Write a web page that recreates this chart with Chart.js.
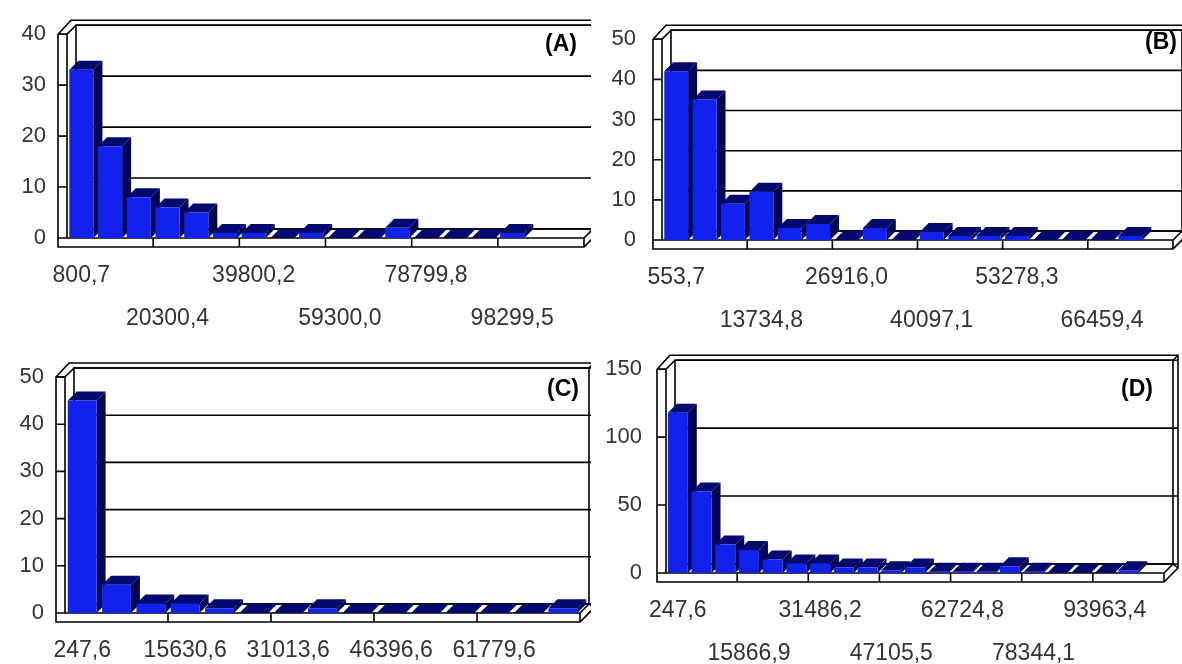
<!DOCTYPE html>
<html>
<head>
<meta charset="utf-8">
<script src="https://cdn.jsdelivr.net/npm/chart.js@4.4.1/dist/chart.umd.min.js"></script>
<style>
  html, body { margin: 0; padding: 0; background: #fff; }
  #wrap { position: relative; width: 1182px; height: 664px; overflow: hidden; background: #fff; }
  .panel { position: absolute; width: 591px; height: 332px; }
</style>
</head>
<body>
<div id="wrap">
  <div class="panel" style="left:0;top:0"><canvas id="histA" width="591" height="332"></canvas></div>
  <div class="panel" style="left:591px;top:0"><canvas id="histB" width="591" height="332"></canvas></div>
  <div class="panel" style="left:0;top:332px"><canvas id="histC" width="591" height="332"></canvas></div>
  <div class="panel" style="left:591px;top:332px"><canvas id="histD" width="591" height="332"></canvas></div>
</div>
<script>
// ── DATA ──────────────────────────────────────────────────────────────────────
// bin labels (only every third bin is labelled in the source), counts per bin
const labelsA = ['800,7','','','20300,4','','','39800,2','','','59300,0','','','78799,8','','','98299,5','',''];
const countsA = [33, 18, 8, 6, 5, 1, 1, 0, 1, 0, 0, 2, 0, 0, 0, 1, null, null];

const labelsB = ['553,7','','','13734,8','','','26916,0','','','40097,1','','','53278,3','','','66459,4','',''];
const countsB = [42, 35, 9, 12, 3, 4, 0, 3, 0, 2, 1, 1, 1, 0, 0, 0, 1, null];

const labelsC = ['247,6','','','15630,6','','','31013,6','','','46396,6','','','61779,6','',''];
const countsC = [45, 6, 2, 2, 1, 0, 0, 1, 0, 0, 0, 0, 0, 0, 1];

const labelsD = ['247,6','','','15866,9','','','31486,2','','','47105,5','','','62724,8','','','78344,1','','','93963,4','',''];
const countsD = [118, 60, 21, 17, 10, 7, 7, 4, 4, 2, 4, 1, 1, 1, 5, 1, 0, 0, 0, 2, null];

// [min, max, step]
const yTicksA = [0, 40, 10];
const yTicksB = [0, 50, 10];
const yTicksC = [0, 50, 10];
const yTicksD = [0, 150, 50];

// ── STYLE ─────────────────────────────────────────────────────────────────────
const DEPTH = 9;
const FRONT = '#1222ee';
const TOP = '#03096e';
const SIDE = '#000654';
const FONT = "'Liberation Sans', Arial, sans-serif";

// 3D walls, floor, bar tops/sides and the (A)..(D) tag
const box3d = {
  id: 'box3d',
  beforeDatasetsDraw(chart, args, o) {
    const { ctx, chartArea: ca, scales: { y } } = chart;
    const L = ca.left, R = ca.right, T = ca.top, B = ca.bottom, d = DEPTH;
    const nSlots = chart.data.labels.length;
    const slot = (R - L) / nSlots;
    ctx.save();
    ctx.strokeStyle = '#000';
    ctx.lineWidth = 1.6;

    // outer silhouette (wall thickness)
    ctx.beginPath();
    ctx.moveTo(L - 9, B + 9);
    ctx.lineTo(L - 9, T);
    ctx.lineTo(L - 9 + d + 4, T - d - 5);
    ctx.lineTo(R + d + 5, T - d - 5);
    ctx.lineTo(R + d + 5, B - d + 4);
    ctx.lineTo(R, B + 9);
    ctx.closePath();
    ctx.stroke();

    // back wall
    ctx.strokeRect(L + d, T - d, R - L, B - T);
    // left wall front edge + top diagonal
    ctx.beginPath();
    ctx.moveTo(L, B); ctx.lineTo(L, T); ctx.lineTo(L + d, T - d);
    ctx.moveTo(L - 9, T); ctx.lineTo(L, T);
    ctx.stroke();
    // floor
    ctx.beginPath();
    ctx.moveTo(L, B); ctx.lineTo(R, B); ctx.lineTo(R + d, B - d);
    ctx.moveTo(R, B); ctx.lineTo(R, B + 9);
    ctx.moveTo(R + d, B - d); ctx.lineTo(R + d + 5, B - d + 4);
    ctx.stroke();
    // corner at top right
    ctx.beginPath();
    ctx.moveTo(R + d, T - d); ctx.lineTo(R + d + 5, T - d - 5);
    ctx.stroke();

    // grid lines on back wall, ticks on side walls
    y.ticks.forEach(t => {
      const py = y.getPixelForValue(t.value);
      ctx.beginPath();
      ctx.moveTo(L + d, py - d); ctx.lineTo(R + d, py - d);
      ctx.moveTo(R + d, py - d); ctx.lineTo(R + d + 5, py - d);
      ctx.moveTo(L - 9, py); ctx.lineTo(L, py);
      ctx.stroke();
    });
    // ticks on floor front every 3 bins
    ctx.beginPath();
    for (let k = 3; k < nSlots; k += 3) {
      const px = L + k * slot;
      ctx.moveTo(px, B); ctx.lineTo(px, B + 9);
    }
    ctx.stroke();

    // bar tops and sides, left to right (fronts drawn by Chart.js afterwards)
    const meta = chart.getDatasetMeta(0);
    const data = chart.data.datasets[0].data;
    meta.data.forEach((bar, i) => {
      if (data[i] === null) return;
      const { x: cx, y: top, width: w } = bar.getProps(['x', 'y', 'width'], true);
      const left = cx - w / 2, right = cx + w / 2;
      ctx.fillStyle = TOP;
      ctx.beginPath();
      ctx.moveTo(left, top); ctx.lineTo(left + d, top - d);
      ctx.lineTo(right + d, top - d); ctx.lineTo(right, top);
      ctx.closePath(); ctx.fill();
      ctx.fillStyle = SIDE;
      ctx.beginPath();
      ctx.moveTo(right, top); ctx.lineTo(right + d, top - d);
      ctx.lineTo(right + d, B - d); ctx.lineTo(right, B);
      ctx.closePath(); ctx.fill();
    });
    ctx.restore();
  },
  afterDraw(chart, args, o) {
    const { ctx } = chart;
    ctx.save();
    ctx.font = 'bold 23px ' + FONT;
    ctx.fillStyle = '#000';
    ctx.textAlign = 'center';
    ctx.textBaseline = 'middle';
    ctx.fillText(o.tag, o.tagX, o.tagY);
    ctx.restore();
  }
};

function makeHist(id, labels, counts, yTicks, g) {
  const [yMin, yMax, yStep] = yTicks;
  return new Chart(document.getElementById(id), {
    type: 'bar',
    data: {
      labels: labels,
      datasets: [{ data: counts, backgroundColor: FRONT, borderWidth: 0, categoryPercentage: 1, barPercentage: 0.84 }]
    },
    plugins: [box3d],
    options: {
      responsive: false,
      animation: false,
      devicePixelRatio: 1,
      layout: { padding: { left: 0, right: 591 - g.R, top: g.T, bottom: 0 } },
      plugins: {
        legend: { display: false },
        tooltip: { enabled: false },
        box3d: { tag: g.tag, tagX: g.tagX, tagY: g.tagY }
      },
      scales: {
        x: {
          offset: true,
          grid: { display: false, drawTicks: false },
          border: { display: false },
          ticks: {
            autoSkip: false, maxRotation: 0, minRotation: 0, padding: 16,
            color: '#333',
            font: { family: FONT, size: 23, lineHeight: '43px' },
            callback: (v, i) => {
              const s = labels[i];
              if (!s) return '';
              return g.stagger && (i / 3) % 2 === 1 ? ['', s] : s;
            }
          },
          afterFit: s => { s.height = 332 - g.B; }
        },
        y: {
          min: yMin, max: yMax,
          grid: { display: false, drawTicks: false },
          border: { display: false },
          ticks: { stepSize: yStep, padding: g.L - g.yLab, color: '#333', font: { family: FONT, size: 22 } },
          afterFit: s => { s.width = g.L; }
        }
      }
    }
  });
}

makeHist('histA', labelsA, countsA, yTicksA, { L: 67, R: 584, T: 28, B: 238, yLab: 46, stagger: true, tag: '(A)', tagX: 561, tagY: 45 });
makeHist('histB', labelsB, countsB, yTicksB, { L: 71, R: 582, T: 30, B: 240, yLab: 45, stagger: true, tag: '(B)', tagX: 570, tagY: 43 });
makeHist('histC', labelsC, countsC, yTicksC, { L: 65, R: 580, T: 45, B: 281, yLab: 44, stagger: false, tag: '(C)', tagX: 563, tagY: 58 });
makeHist('histD', labelsD, countsD, yTicksD, { L: 75, R: 573, T: 30, B: 241, yLab: 51, stagger: true, tag: '(D)', tagX: 546, tagY: 58 });
</script>
</body>
</html>
